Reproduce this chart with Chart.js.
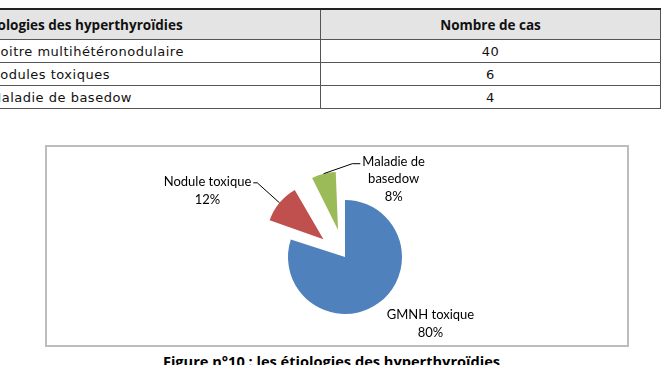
<!DOCTYPE html>
<html>
<head>
<meta charset="utf-8">
<script src="https://cdn.jsdelivr.net/npm/chart.js@4.4.1/dist/chart.umd.min.js"></script>
<style>
body { margin: 0; width: 663px; height: 365px; overflow: hidden; background: #fff; position: relative; font-family: "DejaVu Sans", sans-serif; }
#tbl { position: absolute; left: -17px; top: 8px; width: 678px; border-collapse: collapse; font-size: 13px; color: #111; }
#tbl th, #tbl td { border: 1px solid #555; padding: 0 0 0 6px; height: 22px; letter-spacing: 0.5px; }
#tbl th { background: #e4e4e4; font-family: "Open Sans", sans-serif; font-weight: bold; font-size: 13.5px; height: 29px; border-top: 2px solid #222; letter-spacing: 0; padding-left: 0; }
#tbl th.c1 { text-indent: -4px; }
#tbl .c1 { text-align: left; width: 330px; }
#tbl .c2 { text-align: center; padding: 0; }
#box { position: absolute; left: 45px; top: 145px; width: 580px; height: 198px; border: 2px solid #bdbdbd; }
#caption { position: absolute; left: 0; top: 352px; width: 663px; text-align: center; font-family: "Open Sans", sans-serif; font-weight: bold; font-size: 14.6px; line-height: 18px; }
</style>
</head>
<body>
<table id="tbl"><thead><tr id="head"></tr></thead><tbody id="rows"></tbody></table>
<div id="box"><canvas id="myChart" width="580" height="198"></canvas></div>
<div id="caption">Figure n°10 : les étiologies des hyperthyroïdies</div>
<script>
// table data
const tableHeader = ['Étiologies des hyperthyroïdies', 'Nombre de cas'];
const tableRows = ['Goitre multihétéronodulaire', 'Nodules toxiques', 'Maladie de basedow'];

// pie data
const categories = ['GMNH toxique', 'Nodule toxique', 'Maladie de basedow'];
const counts = [40, 6, 4];
const colors = ['#4f81bd', '#c0504d', '#9bbb59'];

// fill the table
var head = document.getElementById('head');
tableHeader.forEach(function (t, i) {
    var th = document.createElement('th');
    th.className = i == 0 ? 'c1' : 'c2';
    th.textContent = t;
    head.appendChild(th);
});
var body = document.getElementById('rows');
tableRows.forEach(function (t, i) {
    var tr = document.createElement('tr');
    var a = document.createElement('td');
    a.className = 'c1';
    a.textContent = t;
    var b = document.createElement('td');
    b.className = 'c2';
    b.textContent = counts[i];
    tr.appendChild(a);
    tr.appendChild(b);
    body.appendChild(tr);
});

// drawn radius of each slice (px), exploded ones keep about the same size
const sliceRadius = [57, 57, 58];

// where each label sits relative to the outer middle of its slice
const labelLayout = [
    { dx: 52, dy: 12, leader: false },
    { dx: -72, dy: -21, leader: 'right' },
    { dx: 70, dy: -12, leader: 'left' }
];

function wrapLabel(text) {
    if (text.length <= 15) return [text];
    let words = text.split(' ');
    let last = words.pop();
    return [words.join(' '), last];
}

function arcFix(arc) {
    const circ = arc.endAngle - arc.startAngle;
    return 1 - Math.sin(Math.min(Math.PI, circ));
}

// chart.js grows an exploded arc a little, take that back out
const explodeFix = {
    id: 'explodeFix',
    afterDatasetUpdate(chart, args) {
        args.meta.data.forEach((arc, i) => {
            const off = (arc.options.offset || 0) / 4;
            arc.outerRadius = sliceRadius[i] - off * arcFix(arc);
        });
    }
};

const pieLabels = {
    id: 'pieLabels',
    afterDatasetsDraw(chart) {
        const ctx = chart.ctx;
        const meta = chart.getDatasetMeta(0);
        const total = counts.reduce((a, b) => a + b, 0);
        const lineH = 17.5;
        ctx.save();
        ctx.font = '13px Lato, sans-serif';
        ctx.fillStyle = '#000';
        ctx.strokeStyle = '#000';
        ctx.lineWidth = 1;
        ctx.textAlign = 'center';
        ctx.textBaseline = 'middle';
        meta.data.forEach((arc, i) => {
            const off = (arc.options.offset || 0) / 4;
            const r = arc.outerRadius + off * arcFix(arc);
            const mid = (arc.startAngle + arc.endAngle) / 2;
            const ax = arc.x + Math.cos(mid) * (off + r);
            const ay = arc.y + Math.sin(mid) * (off + r);
            const lay = labelLayout[i];
            const lines = wrapLabel(categories[i]).concat(Math.round(counts[i] / total * 100) + '%');
            const cx = ax + lay.dx;
            const cy = ay + lay.dy;
            lines.forEach((l, k) => ctx.fillText(l, cx, cy + k * lineH));
            if (lay.leader) {
                const w = ctx.measureText(lines[0]).width;
                ctx.beginPath();
                if (lay.leader == 'right') {
                    const ex = cx + w / 2 + 2;
                    ctx.moveTo(ax, ay);
                    ctx.lineTo(ex + 4, cy + 1);
                    ctx.lineTo(ex, cy + 1);
                } else {
                    const ex = cx - w / 2 - 2;
                    ctx.moveTo(ax, ay);
                    ctx.lineTo(ex - 8, cy + 2);
                    ctx.lineTo(ex, cy + 2);
                }
                ctx.stroke();
            }
        });
        ctx.restore();
    }
};

const ctx = document.getElementById('myChart');
new Chart(ctx, {
    type: 'pie',
    data: {
        labels: categories,
        datasets: [{
            data: counts,
            backgroundColor: colors,
            borderWidth: 0,
            offset: [0, 112, 112]
        }]
    },
    options: {
        responsive: false,
        animation: false,
        radius: 57,
        layout: { padding: { left: 16, right: 0, top: 22, bottom: 0 } },
        plugins: {
            legend: { display: false },
            tooltip: { enabled: false }
        }
    },
    plugins: [explodeFix, pieLabels]
});
</script>
</body>
</html>
